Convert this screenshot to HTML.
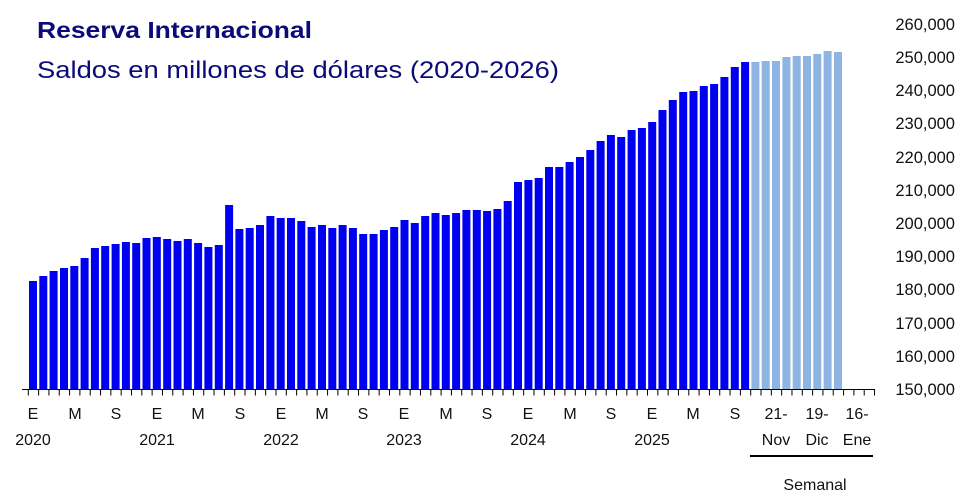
<!DOCTYPE html>
<html><head><meta charset="utf-8"><style>
html,body{margin:0;padding:0;background:#fff;}
svg{display:block;font-family:"Liberation Sans",sans-serif;}
</style></head><body>
<svg width="970" height="500" viewBox="0 0 970 500" xmlns="http://www.w3.org/2000/svg">
<text x="37" y="38" font-size="23" font-weight="bold" fill="#0a0a78" textLength="275" lengthAdjust="spacingAndGlyphs">Reserva Internacional</text>
<text x="37" y="78" font-size="24" fill="#0a0a78" textLength="522" lengthAdjust="spacingAndGlyphs">Saldos en millones de dólares (2020-2026)</text>
<g fill="#0000f0">
<rect x="29" y="281" width="8" height="108"/><rect x="39.3" y="276" width="8" height="113"/><rect x="49.6" y="271" width="8" height="118"/><rect x="60" y="268" width="8" height="121"/><rect x="70.3" y="266" width="8" height="123"/><rect x="80.6" y="258" width="8" height="131"/><rect x="90.9" y="248" width="8" height="141"/><rect x="101.2" y="246" width="8" height="143"/><rect x="111.6" y="244" width="8" height="145"/><rect x="121.9" y="242" width="8" height="147"/><rect x="132.2" y="243" width="8" height="146"/><rect x="142.5" y="238" width="8" height="151"/><rect x="152.8" y="237" width="8" height="152"/><rect x="163.2" y="239" width="8" height="150"/><rect x="173.5" y="241" width="8" height="148"/><rect x="183.8" y="239" width="8" height="150"/><rect x="194.1" y="243" width="8" height="146"/><rect x="204.4" y="247" width="8" height="142"/><rect x="214.8" y="245" width="8" height="144"/><rect x="225.1" y="205" width="8" height="184"/><rect x="235.4" y="229" width="8" height="160"/><rect x="245.7" y="228" width="8" height="161"/><rect x="256" y="225" width="8" height="164"/><rect x="266.4" y="216" width="8" height="173"/><rect x="276.7" y="218" width="8" height="171"/><rect x="287" y="218" width="8" height="171"/><rect x="297.3" y="221" width="8" height="168"/><rect x="307.6" y="227" width="8" height="162"/><rect x="318" y="225" width="8" height="164"/><rect x="328.3" y="228" width="8" height="161"/><rect x="338.6" y="225" width="8" height="164"/><rect x="348.9" y="228" width="8" height="161"/><rect x="359.2" y="234" width="8" height="155"/><rect x="369.6" y="234" width="8" height="155"/><rect x="379.9" y="230" width="8" height="159"/><rect x="390.2" y="227" width="8" height="162"/><rect x="400.5" y="220" width="8" height="169"/><rect x="410.8" y="223" width="8" height="166"/><rect x="421.2" y="216" width="8" height="173"/><rect x="431.5" y="213" width="8" height="176"/><rect x="441.8" y="215" width="8" height="174"/><rect x="452.1" y="213" width="8" height="176"/><rect x="462.4" y="210" width="8" height="179"/><rect x="472.8" y="210" width="8" height="179"/><rect x="483.1" y="211" width="8" height="178"/><rect x="493.4" y="209" width="8" height="180"/><rect x="503.7" y="201" width="8" height="188"/><rect x="514" y="182" width="8" height="207"/><rect x="524.4" y="180" width="8" height="209"/><rect x="534.7" y="178" width="8" height="211"/><rect x="545" y="167" width="8" height="222"/><rect x="555.3" y="167" width="8" height="222"/><rect x="565.6" y="162" width="8" height="227"/><rect x="576" y="157" width="8" height="232"/><rect x="586.3" y="150" width="8" height="239"/><rect x="596.6" y="141" width="8" height="248"/><rect x="606.9" y="135" width="8" height="254"/><rect x="617.2" y="137" width="8" height="252"/><rect x="627.6" y="130" width="8" height="259"/><rect x="637.9" y="128" width="8" height="261"/><rect x="648.2" y="122" width="8" height="267"/><rect x="658.5" y="110" width="8" height="279"/><rect x="668.8" y="100" width="8" height="289"/><rect x="679.2" y="92" width="8" height="297"/><rect x="689.5" y="91" width="8" height="298"/><rect x="699.8" y="86" width="8" height="303"/><rect x="710.1" y="84" width="8" height="305"/><rect x="720.4" y="77" width="8" height="312"/><rect x="730.8" y="67" width="8" height="322"/><rect x="741.1" y="62" width="8" height="327"/>
</g>
<g fill="#8eb4e3">
<rect x="751.4" y="62" width="8" height="327"/><rect x="761.7" y="61" width="8" height="328"/><rect x="772" y="61" width="8" height="328"/><rect x="782.4" y="57" width="8" height="332"/><rect x="792.7" y="56" width="8" height="333"/><rect x="803" y="56" width="8" height="333"/><rect x="813.3" y="54" width="8" height="335"/><rect x="823.6" y="51" width="8" height="338"/><rect x="834" y="52" width="8" height="337"/>
</g>
<line x1="22" y1="389.5" x2="875" y2="389.5" stroke="#000" stroke-width="1"/>
<line x1="27.8" y1="392.5" x2="876" y2="392.5" stroke="#000" stroke-width="6" stroke-dasharray="1 9.32"/>
<g font-size="16.5" fill="#111" text-anchor="end">
<text x="955" y="395">150,000</text><text x="955" y="362">160,000</text><text x="955" y="329">170,000</text><text x="955" y="295">180,000</text><text x="955" y="262">190,000</text><text x="955" y="229">200,000</text><text x="955" y="196">210,000</text><text x="955" y="163">220,000</text><text x="955" y="129">230,000</text><text x="955" y="96">240,000</text><text x="955" y="63">250,000</text><text x="955" y="30">260,000</text>
</g>
<g font-size="16" fill="#111" text-anchor="middle">
<text x="33" y="419">E</text><text x="75" y="419">M</text><text x="116" y="419">S</text>
<text x="157" y="419">E</text><text x="198" y="419">M</text><text x="240" y="419">S</text>
<text x="281" y="419">E</text><text x="322" y="419">M</text><text x="363" y="419">S</text>
<text x="404" y="419">E</text><text x="446" y="419">M</text><text x="487" y="419">S</text>
<text x="528" y="419">E</text><text x="570" y="419">M</text><text x="611" y="419">S</text>
<text x="652" y="419">E</text><text x="693" y="419">M</text><text x="735" y="419">S</text>
<text x="33" y="445">2020</text><text x="157" y="445">2021</text><text x="281" y="445">2022</text><text x="404" y="445">2023</text><text x="528" y="445">2024</text><text x="652" y="445">2025</text>
<text x="776" y="419">21-</text><text x="817" y="419">19-</text><text x="857" y="419">16-</text>
<text x="776" y="445">Nov</text><text x="817" y="445">Dic</text><text x="857" y="445">Ene</text>
<text x="815" y="490">Semanal</text>
</g>
<line x1="750" y1="456" x2="873" y2="456" stroke="#000" stroke-width="2"/>
</svg>
</body></html>
